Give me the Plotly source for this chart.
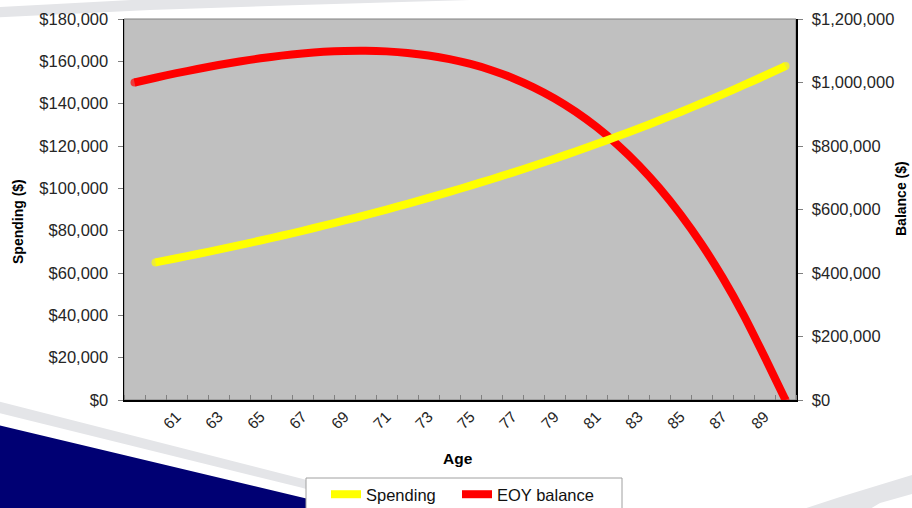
import plotly.graph_objects as go

# ---- data ----
ages = [59, 60, 61, 62, 63, 64, 65, 66, 67, 68, 69, 70, 71, 72, 73, 74,
        75, 76, 77, 78, 79, 80, 81, 82, 83, 84, 85, 86, 87, 88, 89, 90]
spending = [None, 65000, 66950, 68960, 71030, 73160, 75350, 77610, 79940,
            82340, 84810, 87350, 89980, 92670, 95450, 98320, 101270, 104310,
            107440, 110660, 113980, 117400, 120920, 124550, 128280, 132130,
            136100, 140180, 144380, 148720, 153180, 157770]
balance = [1000000, 1015000, 1029300, 1042600, 1055000, 1066300, 1076200,
           1084700, 1091500, 1096500, 1099400, 1100000, 1098000, 1093200,
           1085200, 1073700, 1058300, 1038700, 1014400, 984800, 949700,
           908200, 860000, 804200, 740300, 667400, 584700, 491300, 386200,
           268400, 136600, 0]
tick_ages = [61, 63, 65, 67, 69, 71, 73, 75, 77, 79, 81, 83, 85, 87, 89]

# ---- layout geometry (pixels) ----
W, H = 912, 508
L, R, T, B = 124, 116, 19, 108
PW, PH = W - L - R, H - T - B
FONT = "Liberation Sans, Arial, sans-serif"
LW = 8


def px(x, y):
    return (x - L) / PW, (H - B - y) / PH


def path(points):
    s = ""
    for i, (x, y) in enumerate(points):
        a, b = px(x, y)
        s += ("M" if i == 0 else "L") + f"{a:.5f},{b:.5f} "
    return s + "Z"


def end_caps(values):
    idx = [i for i, v in enumerate(values) if v is not None]
    return [LW if i in (idx[0], idx[-1]) else 0 for i in range(len(values))]


fig = go.Figure()
fig.add_trace(go.Scatter(
    x=ages, y=balance, name="EOY balance", mode="lines+markers",
    line=dict(color="#FF0000", width=LW, shape="spline", smoothing=0.6),
    marker=dict(color="#FF0000", size=end_caps(balance), line=dict(width=0)),
    yaxis="y", legendrank=2, legendwidth=112, hoverinfo="skip"))
fig.add_trace(go.Scatter(
    x=ages, y=spending, name="Spending", mode="lines+markers",
    line=dict(color="#FFFF00", width=LW, shape="spline", smoothing=0.6),
    marker=dict(color="#FFFF00", size=end_caps(spending), line=dict(width=0)),
    yaxis="y2", legendrank=1, legendwidth=86, hoverinfo="skip"))

# decorative background swooshes
navy = [(-5, 424), (0, 425.5), (346, 508), (360, 515), (-5, 515)]
grayband = [(-5, 400.5), (0, 401.7), (300, 478.3), (420, 509), (440, 515),
            (400, 515), (300, 487.3), (0, 413.3), (-5, 413)]
topband = [(-5, 7.2), (0, 7), (75, 3), (150, -1), (480, -2), (470, 0),
           (300, 5), (150, 10), (0, 17.3), (-5, 17.5)]
brband = [(785, 515), (840, 497), (912, 475), (920, 473), (920, 493),
          (912, 494), (880, 503), (860, 515)]

shapes = []
for pts, col in [(grayband, "#E4E5E8"), (navy, "#000073"),
                 (topband, "#E4E5E8"), (brband, "#E4E5E8")]:
    shapes.append(dict(type="path", xref="paper", yref="paper",
                       path=path(pts), fillcolor=col, line=dict(width=0),
                       layer="below"))
# plot-area frame
shapes.append(dict(type="rect", xref="paper", yref="paper", x0=0, x1=1,
                   y0=0, y1=1, line=dict(color="#808080", width=1),
                   fillcolor="rgba(0,0,0,0)", layer="below"))
# legend frame
lx0, ly0 = px(306, 478)
lx1, ly1 = px(622, 515)
shapes.append(dict(type="rect", xref="paper", yref="paper", x0=lx0, x1=lx1,
                   y0=ly1, y1=ly0, line=dict(color="#A0A0A0", width=1),
                   fillcolor="white", layer="below"))

tickfont = dict(family=FONT, size=16.5, color="#262626")

fig.update_layout(
    width=W, height=H, autosize=False,
    margin=dict(l=L, r=R, t=T, b=B, pad=0, autoexpand=False),
    paper_bgcolor="white", plot_bgcolor="#C0C0C0",
    font=dict(family=FONT, color="#000000"),
    showlegend=True,
    legend=dict(orientation="h", x=px(326, 0)[0], xanchor="left",
                y=px(0, 477)[1], yanchor="top", bgcolor="rgba(0,0,0,0)",
                borderwidth=0,
                font=dict(family=FONT, size=16.5, color="#111111"),
                traceorder="normal", itemwidth=30),
    xaxis=dict(range=[58.5, 90.5], tickmode="array", tickvals=tick_ages,
               ticktext=[str(a) for a in tick_ages], tickangle=-45,
               ticks="", showgrid=False, zeroline=False, showline=True,
               linecolor="#000000", linewidth=1.5,
               tickfont=dict(family=FONT, size=15.5, color="#262626"),
               minor=dict(tickmode="linear", tick0=58.5, dtick=1,
                          ticks="inside", ticklen=5, tickcolor="#808080",
                          showgrid=False)),
    yaxis=dict(side="right", range=[0, 1200000], dtick=200000, tick0=0,
               tickprefix="$", tickformat=",d", ticks="outside", ticklen=5,
               tickcolor="#808080", showgrid=False, zeroline=False,
               showline=True, linecolor="#000000", linewidth=1.5,
               tickfont=tickfont, ticklabelstandoff=6, fixedrange=True),
    yaxis2=dict(side="left", overlaying="y", range=[0, 180000], dtick=20000,
                tick0=0, tickprefix="$", tickformat=",d", ticks="outside",
                ticklen=5, tickcolor="#808080", showgrid=False,
                zeroline=False, showline=True, linecolor="#000000",
                linewidth=1.5, tickfont=tickfont, ticklabelstandoff=6,
                fixedrange=True),
    shapes=shapes,
    annotations=[
        dict(text="<b>Age</b>", xref="paper", yref="paper",
             x=px(458, 0)[0], y=px(0, 458)[1], showarrow=False,
             xanchor="center", yanchor="middle",
             font=dict(family=FONT, size=15.5, color="#000000")),
        dict(text="<b>Spending ($)</b>", xref="paper", yref="paper",
             x=px(18, 0)[0], y=px(0, 222)[1], showarrow=False, textangle=-90,
             xanchor="center", yanchor="middle",
             font=dict(family=FONT, size=14, color="#000000")),
        dict(text="<b>Balance ($)</b>", xref="paper", yref="paper",
             x=px(901, 0)[0], y=px(0, 199)[1], showarrow=False, textangle=-90,
             xanchor="center", yanchor="middle",
             font=dict(family=FONT, size=14, color="#000000")),
    ],
)

fig.write_html("out.html",
               config={"displayModeBar": False, "staticPlot": True},
               post_script="document.body.style.margin='0';"
                           "document.body.style.overflow='hidden';")
